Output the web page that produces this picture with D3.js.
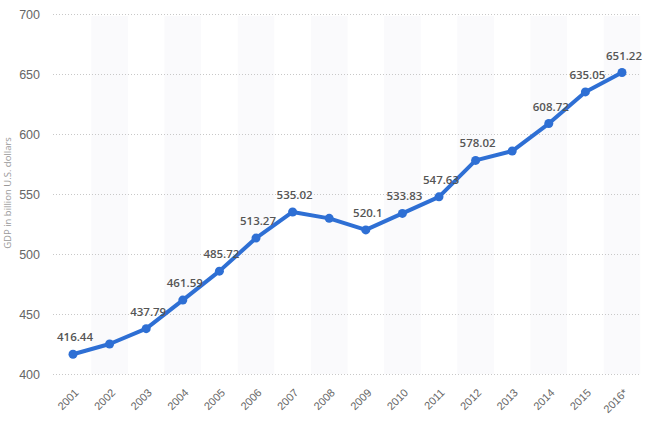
<!DOCTYPE html>
<html><head><meta charset="utf-8">
<script src="https://cdn.jsdelivr.net/npm/d3@7"></script>
<style>
body{margin:0;background:#fff;}
svg{display:block;font-family:"Open Sans","Liberation Sans",sans-serif;}
</style></head>
<body><svg id="c" width="654" height="424"></svg>
<script>
const years = ["2001","2002","2003","2004","2005","2006","2007","2008","2009","2010","2011","2012","2013","2014","2015","2016*"];
const gdp = [416.44,425.0,437.79,461.59,485.72,513.27,535.02,529.7,520.1,533.83,547.63,578.02,585.8,608.72,635.05,651.22];
const labels = ["416.44",null,"437.79","461.59","485.72","513.27","535.02",null,"520.1","533.83","547.63","578.02",null,"608.72","635.05","651.22"];
const yTicks = [400,450,500,550,600,650,700];
const yTitle = "GDP in billion U.S. dollars";

const svg = d3.select("#c");
const x = d3.scaleBand().domain(years).range([54.7,640.3]);
const y = d3.scaleLinear().domain([400,700]).range([374,14]);

// alternating bands
svg.append("g").selectAll("rect").data(years.filter((d,i)=>i%2===1)).join("rect")
  .attr("x",d=>x(d)).attr("y",y(700)+2).attr("width",x.bandwidth()).attr("height",y(400)-y(700)-2)
  .attr("fill","#fafafc");

// grid
const yAxis = svg.append("g").attr("transform","translate(53,0)")
  .call(d3.axisLeft(y).tickValues(yTicks).tickSize(-588).tickPadding(13));
yAxis.select(".domain").remove();
yAxis.selectAll("line").attr("stroke","#c8c8c8").attr("stroke-dasharray","1,2");
yAxis.selectAll("text").attr("fill","#666").attr("font-size","12.5px");

// x axis
const xAxis = svg.append("g").attr("transform","translate(0,381)")
  .call(d3.axisBottom(x).tickSize(0).tickPadding(0));
xAxis.select(".domain").remove();
xAxis.selectAll("text").attr("fill","#666").attr("font-size","11px")
  .attr("text-anchor","end").attr("dy","0.7em")
  .attr("transform","translate(1,7) rotate(-45)");

// y title
svg.append("text").attr("transform","translate(11,193) rotate(-90)")
  .attr("text-anchor","middle").attr("fill","#999").attr("font-size","9.5px").text(yTitle);

const cx = d=>x(d)+x.bandwidth()/2;
const line = d3.line().x((d,i)=>cx(years[i])).y(d=>y(d));
svg.append("path").datum(gdp).attr("d",line).attr("fill","none")
  .attr("stroke","#2e6fd4").attr("stroke-width",4).attr("stroke-linejoin","round");
svg.append("g").selectAll("circle").data(gdp).join("circle")
  .attr("cx",(d,i)=>cx(years[i])).attr("cy",d=>y(d)).attr("r",4.5).attr("fill","#2e6fd4");

svg.append("g").selectAll("text").data(gdp.map((v,i)=>({v,i,l:labels[i]})).filter(d=>d.l)).join("text")
  .attr("x",d=>cx(years[d.i])+2).attr("y",d=>y(d.v)-13)
  .attr("text-anchor","middle").attr("fill","#555").attr("font-size","11.5px").attr("font-weight","600")
  .text(d=>d.l);
</script></body></html>
